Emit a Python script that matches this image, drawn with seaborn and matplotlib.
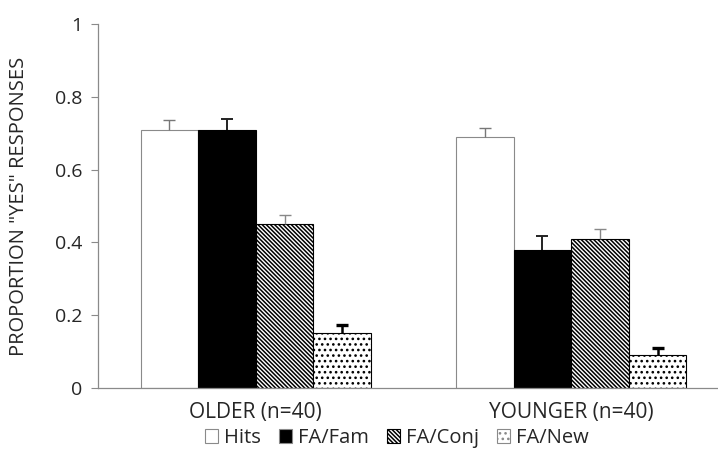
import matplotlib
matplotlib.use("Agg")
import matplotlib.pyplot as plt
import seaborn as sns
import pandas as pd
import numpy as np
from matplotlib.patches import Patch

groups = ["OLDER (n=40)", "YOUNGER (n=40)"]
conditions = ["Hits", "FA/Fam", "FA/Conj", "FA/New"]
older_vals = [0.71, 0.71, 0.45, 0.15]
younger_vals = [0.69, 0.38, 0.41, 0.09]
older_err = [0.025, 0.03, 0.025, 0.022]
younger_err = [0.025, 0.037, 0.027, 0.02]
yticks = [0, 0.2, 0.4, 0.6, 0.8, 1]
ytick_labels = ["0", "0.2", "0.4", "0.6", "0.8", "1"]

sns.set_theme(style="white")
plt.rcParams['font.family'] = ['Open Sans', 'DejaVu Sans']
plt.rcParams['hatch.linewidth'] = 1.1
plt.rcParams['hatch.color'] = 'black'

rows = []
for g, vals in zip(groups, [older_vals, younger_vals]):
    for c, v in zip(conditions, vals):
        rows.append({"group": g, "condition": c, "value": v})
df = pd.DataFrame(rows)
errs = {g: e for g, e in zip(groups, [older_err, younger_err])}

fig = plt.figure(figsize=(7.18, 4.62), dpi=100)
ax = fig.add_axes([98/718, (462-388)/462, 631/718, (388-24)/462])

sns.barplot(data=df, x="group", y="value", hue="condition", order=groups,
            hue_order=conditions, width=0.73, errorbar=None, ax=ax, legend=False,
            palette=["white"]*4, saturation=1)

faces = ["white", "black", "white", "white"]
hatches = [None, None, "\\" * 8, "..."]
edges = ["#8a8a8a", "#000000", "#000000", "#000000"]
err_colors = ["#777777", "#222222", "#888888", "#000000"]
err_lw = [1.0, 1.4, 1.0, 2.4]

bar_containers = list(ax.containers)
for i, cont in enumerate(bar_containers):
    for j, bar in enumerate(cont.patches):
        bar.set_facecolor(faces[i])
        bar.set_edgecolor(edges[i])
        bar.set_linewidth(0.8)
        if hatches[i]:
            bar.set_hatch(hatches[i])
        xc = bar.get_x() + bar.get_width() / 2
        h = bar.get_height()
        e = errs[groups[j]][i]
        eb = ax.errorbar([xc], [h], yerr=[[0], [e]], fmt="none", ecolor=err_colors[i],
                         elinewidth=err_lw[i] if i != 3 else 1.8, capsize=4,
                         capthick=err_lw[i], zorder=3)
        caps = eb[1]
        if len(caps) > 1:
            caps[0].set_visible(False)

ax.set_xlim(-0.5, 1.5)
ax.set_ylim(0, 1)
ax.set_yticks(yticks)
ax.set_yticklabels(ytick_labels, fontsize=14)
ax.tick_params(axis="y", length=5, width=0.8, color="#8a8a8a", pad=6, left=True)
ax.tick_params(axis="x", length=0, pad=10, labelsize=15)
ax.set_xlabel("")
ax.set_ylabel('PROPORTION "YES" RESPONSES', fontsize=14.5)
ax.yaxis.set_label_coords(-0.11, 0.5)
for s in ["top", "right"]:
    ax.spines[s].set_visible(False)
for s in ["left", "bottom"]:
    ax.spines[s].set_color("#8a8a8a")
    ax.spines[s].set_linewidth(0.9)

handles = []
for i in range(4):
    handles.append(Patch(facecolor=faces[i], edgecolor="#8a8a8a" if i != 2 else "#000000",
                         hatch=hatches[i], linewidth=0.8))
fig.legend(handles, conditions, loc="center", bbox_to_anchor=(397/718, 1 - 438/462),
           ncol=4, frameon=False, fontsize=14.5, handlelength=0.65, handleheight=0.65,
           handletextpad=0.3, columnspacing=0.9)

fig.savefig("out.png", dpi=100)
